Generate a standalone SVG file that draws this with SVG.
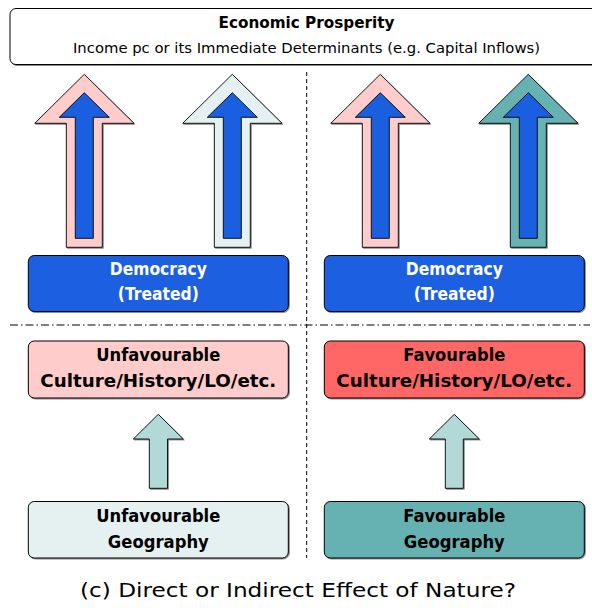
<svg xmlns="http://www.w3.org/2000/svg" width="592" height="608" viewBox="0 0 592 608">
<defs>
<filter id="sh" x="-10%" y="-10%" width="130%" height="130%">
<feDropShadow dx="1" dy="1" stdDeviation="0.6" flood-color="#000" flood-opacity="0.45"/>
</filter>
<style>
.box{stroke:#000;stroke-width:1;filter:url(#sh)}
.arr{stroke:#000;stroke-width:0.9;stroke-linejoin:miter;filter:url(#sh)}
.inner{fill:#1a5fe0;stroke:#000;stroke-width:0.9}
.t{font-family:"DejaVu Sans","Liberation Sans",sans-serif;text-anchor:middle}
.b{font-weight:bold;font-size:17.5px}
.w{fill:#fff}
.k{fill:#000}
</style>
</defs>
<rect width="592" height="608" fill="#fff"/>
<g id="connectors">
<line x1="306.7" y1="72" x2="306.7" y2="558" stroke="#000" stroke-width="1" stroke-dasharray="4,3"/>
<line x1="10" y1="325" x2="590" y2="325" stroke="#000" stroke-width="1" stroke-dasharray="8,3,1.5,3"/>
</g>
<g id="prosperity">
<rect class="box" x="10" y="8.5" width="600" height="56" rx="6" fill="#fff"/>
<text class="t k" x="306.5" y="28" font-weight="bold" font-size="16" textLength="176" lengthAdjust="spacingAndGlyphs">Economic Prosperity</text>
<text class="t k" x="306.5" y="53" font-size="14.5" textLength="467" lengthAdjust="spacingAndGlyphs">Income pc or its Immediate Determinants (e.g. Capital Inflows)</text>
</g>
<g id="arrow1">
<path class="arr" fill="#ffcccc" d="M84.3,74.3 L134,123.3 L102.3,123.3 L102.3,247.3 L66.3,247.3 L66.3,123.3 L34.7,123.3 Z"/>
<path class="inner" d="M84.3,92.7 L109.3,117.3 L93.3,117.3 L93.3,238.3 L75.3,238.3 L75.3,117.3 L59.3,117.3 Z"/>
</g>
<g id="arrow2">
<path class="arr" fill="#e5f1f0" d="M232.3,74.3 L282,123.3 L250.3,123.3 L250.3,247.3 L214.3,247.3 L214.3,123.3 L182.7,123.3 Z"/>
<path class="inner" d="M232.3,92.7 L257.3,117.3 L241.3,117.3 L241.3,238.3 L223.3,238.3 L223.3,117.3 L207.3,117.3 Z"/>
</g>
<g id="arrow3">
<path class="arr" fill="#ffcccc" d="M380.3,74.3 L430,123.3 L398.3,123.3 L398.3,247.3 L362.3,247.3 L362.3,123.3 L330.7,123.3 Z"/>
<path class="inner" d="M380.3,92.7 L405.3,117.3 L389.3,117.3 L389.3,238.3 L371.3,238.3 L371.3,117.3 L355.3,117.3 Z"/>
</g>
<g id="arrow4">
<path class="arr" fill="#66b2b2" d="M528.3,74.3 L578,123.3 L546.3,123.3 L546.3,247.3 L510.3,247.3 L510.3,123.3 L478.7,123.3 Z"/>
<path class="inner" d="M528.3,92.7 L553.3,117.3 L537.3,117.3 L537.3,238.3 L519.3,238.3 L519.3,117.3 L503.3,117.3 Z"/>
</g>
<g id="democracy-left">
<rect class="box" x="28.3" y="255.5" width="260" height="56" rx="6" fill="#1a5fe0"/>
<text class="t b w" x="158.3" y="275" textLength="97" lengthAdjust="spacingAndGlyphs">Democracy</text>
<text class="t b w" x="158.3" y="300" textLength="81" lengthAdjust="spacingAndGlyphs">(Treated)</text>
</g>
<g id="democracy-right">
<rect class="box" x="324.3" y="255.5" width="260" height="56" rx="6" fill="#1a5fe0"/>
<text class="t b w" x="454.3" y="275" textLength="97" lengthAdjust="spacingAndGlyphs">Democracy</text>
<text class="t b w" x="454.3" y="300" textLength="81" lengthAdjust="spacingAndGlyphs">(Treated)</text>
</g>
<g id="culture-left">
<rect class="box" x="28.3" y="341" width="260" height="57" rx="6" fill="#ffcccc"/>
<text class="t b k" x="158.3" y="361" textLength="124" lengthAdjust="spacingAndGlyphs">Unfavourable</text>
<text class="t b k" x="158.3" y="387" textLength="236" lengthAdjust="spacingAndGlyphs">Culture/History/LO/etc.</text>
</g>
<g id="culture-right">
<rect class="box" x="324.3" y="341" width="260" height="57" rx="6" fill="#ff6666"/>
<text class="t b k" x="454.3" y="361" textLength="102" lengthAdjust="spacingAndGlyphs">Favourable</text>
<text class="t b k" x="454.3" y="387" textLength="236" lengthAdjust="spacingAndGlyphs">Culture/History/LO/etc.</text>
</g>
<g id="arrow-geo-left">
<path class="arr" fill="#b2d8d8" d="M158.3,414.3 L183.3,439 L167.5,439 L167.5,488.3 L149.3,488.3 L149.3,439 L133.3,439 Z"/>
</g>
<g id="arrow-geo-right">
<path class="arr" fill="#b2d8d8" d="M454.3,414.3 L479.3,439 L463.3,439 L463.3,488.3 L445.3,488.3 L445.3,439 L429.3,439 Z"/>
</g>
<g id="geography-left">
<rect class="box" x="28.3" y="501.5" width="260" height="56.5" rx="6" fill="#e5f1f0"/>
<text class="t b k" x="158.3" y="522" textLength="124" lengthAdjust="spacingAndGlyphs">Unfavourable</text>
<text class="t b k" x="158.3" y="548" textLength="101" lengthAdjust="spacingAndGlyphs">Geography</text>
</g>
<g id="geography-right">
<rect class="box" x="324.3" y="501.5" width="260" height="56.5" rx="6" fill="#66b2b2"/>
<text class="t b k" x="454.3" y="522" textLength="102" lengthAdjust="spacingAndGlyphs">Favourable</text>
<text class="t b k" x="454.3" y="548" textLength="101" lengthAdjust="spacingAndGlyphs">Geography</text>
</g>
<text class="t k" x="298" y="597" font-size="20" textLength="436" lengthAdjust="spacingAndGlyphs">(c) Direct or Indirect Effect of Nature?</text>
</svg>
